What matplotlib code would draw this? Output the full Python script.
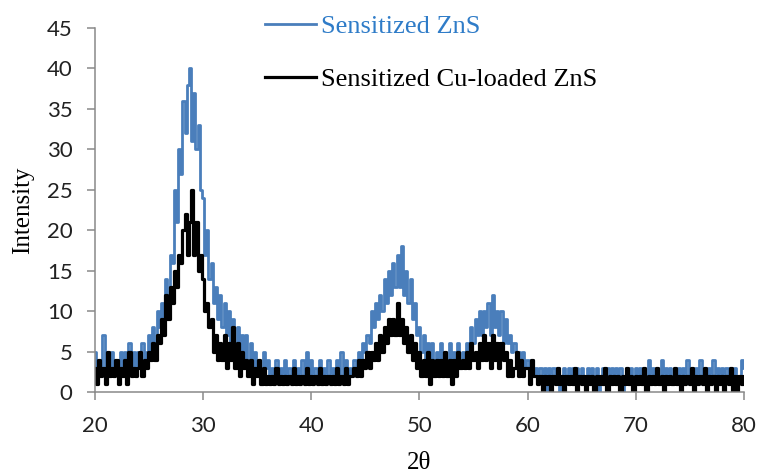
#!/usr/bin/env python3
"""XRD patterns of sensitized ZnS and sensitized Cu-loaded ZnS."""
from __future__ import annotations

import numpy as np
import matplotlib
matplotlib.use("Agg")
import matplotlib.pyplot as plt

# scan grid, 2theta in degrees (0.2 deg step)
TWO_THETA = np.round(np.arange(20.0, 80.0001, 0.2), 1)

ZNS = [
    5, 3, 4, 2, 7, 3, 5, 3, 5, 3,          # 20
    4, 2, 5, 3, 5, 3, 6, 3, 5, 3,          # 22
    5, 3, 6, 4, 5, 7, 5, 8, 6, 10,         # 24
    8, 11, 9, 14, 12, 17, 16, 25, 21, 30,  # 26
    27, 36, 32, 38, 40, 31, 37, 30, 33, 25,  # 28
    24, 17, 20, 14, 16, 11, 13, 9, 12, 8,  # 30
    11, 7, 10, 6, 9, 5, 8, 5, 7, 4,        # 32
    7, 4, 6, 3, 5, 3, 4, 2, 5, 3,          # 34
    4, 2, 3, 2, 4, 2, 3, 2, 4, 2,          # 36
    3, 2, 4, 2, 3, 2, 4, 2, 5, 2,          # 38
    4, 2, 3, 2, 4, 2, 3, 2, 4, 2,          # 40
    3, 2, 4, 2, 5, 2, 4, 2, 3, 2,          # 42
    4, 3, 5, 4, 6, 5, 7, 6, 10, 8,         # 44
    11, 9, 12, 10, 14, 11, 15, 12, 16, 13,  # 46
    17, 13, 18, 12, 15, 11, 14, 9, 11, 7,  # 48
    8, 5, 7, 4, 6, 3, 6, 4, 5, 3,          # 50
    6, 3, 5, 4, 6, 3, 5, 4, 6, 3,          # 52
    5, 4, 6, 5, 8, 6, 9, 7, 10, 7,         # 54
    10, 8, 11, 7, 12, 8, 10, 7, 10, 6,     # 56
    9, 6, 7, 5, 6, 4, 5, 3, 5, 3,          # 58
    4, 2, 4, 2, 3, 2, 3, 1, 3, 0,          # 60
    3, 2, 3, 1, 3, 0, 2, 3, 1, 3,          # 62
    2, 3, 1, 3, 2, 3, 1, 2, 3, 1,          # 64
    3, 2, 3, 0, 2, 3, 1, 3, 2, 3,          # 66
    1, 3, 2, 3, 0, 2, 3, 1, 3, 2,          # 68
    3, 1, 3, 2, 3, 1, 4, 2, 3, 1,          # 70
    3, 2, 4, 1, 3, 2, 3, 1, 3, 2,          # 72
    3, 1, 3, 2, 4, 1, 3, 2, 3, 1,          # 74
    4, 2, 3, 1, 3, 2, 4, 1, 3, 2,          # 76
    3, 1, 3, 2, 3, 1, 3, 0, 2, 4,          # 78
    3,                                     # 80
]

CU_ZNS = [
    3, 1, 4, 2, 3, 1, 5, 2, 3, 2,          # 20
    4, 1, 3, 2, 4, 1, 5, 2, 3, 2,          # 22
    3, 5, 2, 4, 3, 5, 4, 6, 4, 7,          # 24
    6, 9, 7, 12, 9, 13, 11, 15, 13, 17,    # 26
    16, 20, 22, 17, 21, 25, 17, 21, 15, 17,  # 28
    14, 10, 11, 8, 9, 5, 7, 4, 6, 4,       # 30
    7, 3, 6, 4, 8, 3, 6, 2, 5, 3,          # 32
    4, 2, 4, 1, 3, 2, 4, 1, 3, 1,          # 34
    2, 1, 2, 1, 3, 1, 2, 1, 2, 1,          # 36
    2, 1, 3, 1, 2, 1, 2, 1, 3, 1,          # 38
    2, 1, 2, 1, 3, 1, 2, 1, 2, 1,          # 40
    2, 1, 3, 1, 2, 1, 3, 1, 2, 2,          # 42
    3, 2, 4, 2, 4, 3, 5, 3, 5, 4,          # 44
    6, 4, 7, 5, 8, 6, 9, 7, 9, 7,          # 46
    11, 7, 9, 6, 8, 5, 7, 4, 6, 3,         # 48
    5, 2, 4, 2, 5, 1, 4, 2, 4, 2,          # 50
    4, 2, 5, 2, 4, 1, 4, 2, 5, 3,          # 52
    4, 3, 5, 3, 6, 4, 5, 3, 6, 4,          # 54
    7, 4, 6, 3, 7, 4, 6, 3, 6, 4,          # 56
    5, 2, 4, 2, 3, 5, 2, 4, 2, 3,          # 58
    3, 1, 4, 2, 2, 1, 2, 0, 2, 1,          # 60
    2, 0, 2, 1, 3, 1, 2, 0, 2, 1,          # 62
    2, 1, 3, 0, 2, 1, 2, 0, 2, 1,          # 64
    2, 0, 2, 1, 2, 1, 3, 0, 2, 1,          # 66
    2, 1, 2, 0, 2, 1, 3, 1, 2, 0,          # 68
    2, 1, 2, 1, 3, 0, 2, 1, 2, 1,          # 70
    3, 1, 2, 0, 2, 1, 2, 1, 3, 1,          # 72
    2, 0, 2, 1, 2, 1, 3, 0, 2, 1,          # 74
    2, 1, 3, 0, 2, 1, 2, 0, 2, 1,          # 76
    2, 0, 2, 1, 3, 0, 2, 0, 2, 1,          # 78
    2,                                     # 80
]

LABELS = ["Sensitized ZnS", "Sensitized Cu-loaded ZnS"]
X_TICKS = [20, 30, 40, 50, 60, 70, 80]
Y_TICKS = [0, 5, 10, 15, 20, 25, 30, 35, 40, 45]

BLUE = "#4a7ebb"
BLUE_TEXT = "#2f7cc8"
AXIS_GREY = "#898989"
SERIF = ["Liberation Serif", "DejaVu Serif"]


def main():
    fig = plt.figure(figsize=(7.59, 4.75), dpi=100)
    ax = fig.add_axes([0.125, 0.1747, 0.855, 0.7663])

    ax.plot(TWO_THETA, ZNS, color=BLUE, lw=2.0, drawstyle="steps-mid",
            label=LABELS[0])
    ax.plot(TWO_THETA, CU_ZNS, color="black", lw=2.3, drawstyle="steps-mid",
            label=LABELS[1])

    ax.set_xlim(20, 80)
    ax.set_ylim(0, 45)
    ax.set_xticks(X_TICKS)
    ax.set_yticks(Y_TICKS)
    for side in ("top", "right"):
        ax.spines[side].set_visible(False)
    for side in ("left", "bottom"):
        ax.spines[side].set_color(AXIS_GREY)
        ax.spines[side].set_linewidth(1.1)
    ax.tick_params(axis="both", direction="out", color=AXIS_GREY, width=1.1,
                   length=6, labelsize=16, labelcolor="#222222")
    ax.tick_params(axis="y", pad=10)
    ax.tick_params(axis="x", pad=11)
    for lbl in ax.get_xticklabels() + ax.get_yticklabels():
        lbl.set_family("Lato")

    ax.set_xlabel("2θ", family=SERIF, fontsize=18, labelpad=12)
    ax.set_ylabel("Intensity", family=SERIF, fontsize=18, labelpad=9)

    leg = ax.legend(loc="upper left", bbox_to_anchor=(0.341, 0.983),
                    bbox_transform=fig.transFigure, frameon=False,
                    prop={"family": SERIF, "size": 19},
                    handlelength=1.9, handletextpad=0.2, labelspacing=1.12,
                    borderaxespad=0.0, borderpad=0.25)
    leg.get_texts()[0].set_color(BLUE_TEXT)

    fig.savefig("out.png", dpi=100)


if __name__ == "__main__":
    main()
